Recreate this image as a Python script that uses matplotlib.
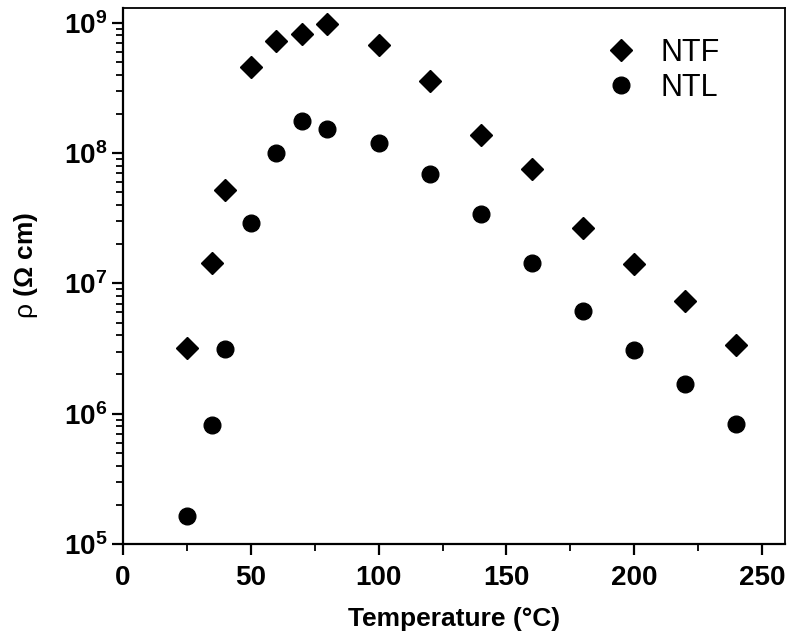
import matplotlib
matplotlib.use("Agg")
import matplotlib.pyplot as plt
import numpy as np
from matplotlib.ticker import FuncFormatter, LogLocator, MultipleLocator, NullFormatter

plt.rcParams['font.family'] = ['Liberation Sans', 'DejaVu Sans']
plt.rcParams['mathtext.fontset'] = 'custom'
plt.rcParams['mathtext.bf'] = 'Liberation Sans:bold'
plt.rcParams['mathtext.rm'] = 'Liberation Sans:bold'
plt.rcParams['mathtext.it'] = 'Liberation Sans'

# temperature (°C)
temp = [25, 35, 40, 50, 60, 70, 80, 100, 120, 140, 160, 180, 200, 220, 240]
# resistivity (Ohm cm)
ntf = [3.2e6, 1.44e7, 5.2e7, 4.6e8, 7.3e8, 8.2e8, 9.8e8, 6.8e8,
       3.6e8, 1.38e8, 7.6e7, 2.67e7, 1.41e7, 7.3e6, 3.37e6]
ntl = [1.64e5, 8.2e5, 3.14e6, 2.9e7, 1.0e8, 1.77e8, 1.53e8, 1.2e8,
       6.9e7, 3.42e7, 1.44e7, 6.15e6, 3.09e6, 1.69e6, 8.3e5]

fig = plt.figure(figsize=(7.87, 6.36), dpi=100)
ax = fig.add_axes([0.1563, 0.1447, 0.8412, 0.8427])

ax.plot(temp, ntf, 'D', color='black', ms=11, ls='none', label='NTF')
ax.plot(temp, ntl, 'o', color='black', ms=12, ls='none', label='NTL')

ax.set_yscale('log')
ax.set_xlim(0, 259)
ax.set_ylim(1e5, 1.3e9)

ax.xaxis.set_major_locator(MultipleLocator(50))
ax.xaxis.set_minor_locator(MultipleLocator(25))
ax.yaxis.set_major_locator(LogLocator(base=10, numticks=10))
ax.yaxis.set_minor_locator(LogLocator(base=10, subs=np.arange(2, 10), numticks=20))
ax.yaxis.set_minor_formatter(NullFormatter())
ax.yaxis.set_major_formatter(FuncFormatter(
    lambda v, p: r"$\mathbf{10^{%d}}$" % int(round(np.log10(v)))))

ax.tick_params(which='major', direction='out', length=8, width=1.6,
               labelsize=20, top=False, right=False)
ax.tick_params(axis='x', which='major', pad=7)
ax.tick_params(which='minor', direction='out', length=5, width=1.3,
               top=False, right=False)
for lbl in ax.get_xticklabels():
    lbl.set_fontweight('bold')
for side in ['left', 'bottom']:
    ax.spines[side].set_linewidth(1.6)
for side in ['top', 'right']:
    ax.spines[side].set_linewidth(1.3)

ax.set_xlabel('Temperature (°C)', fontsize=19, fontweight='bold', labelpad=12)
ax.set_ylabel(r'$\rho$ (Ω cm)', fontsize=19, fontweight='bold')
ax.yaxis.set_label_coords(-0.125, 0.52)

ax.legend(loc='upper left', bbox_to_anchor=(0.687, 0.995), frameon=False,
          fontsize=22, handlelength=1.0, handletextpad=0.8, labelspacing=0.15)

fig.savefig('out.png', dpi=100)
